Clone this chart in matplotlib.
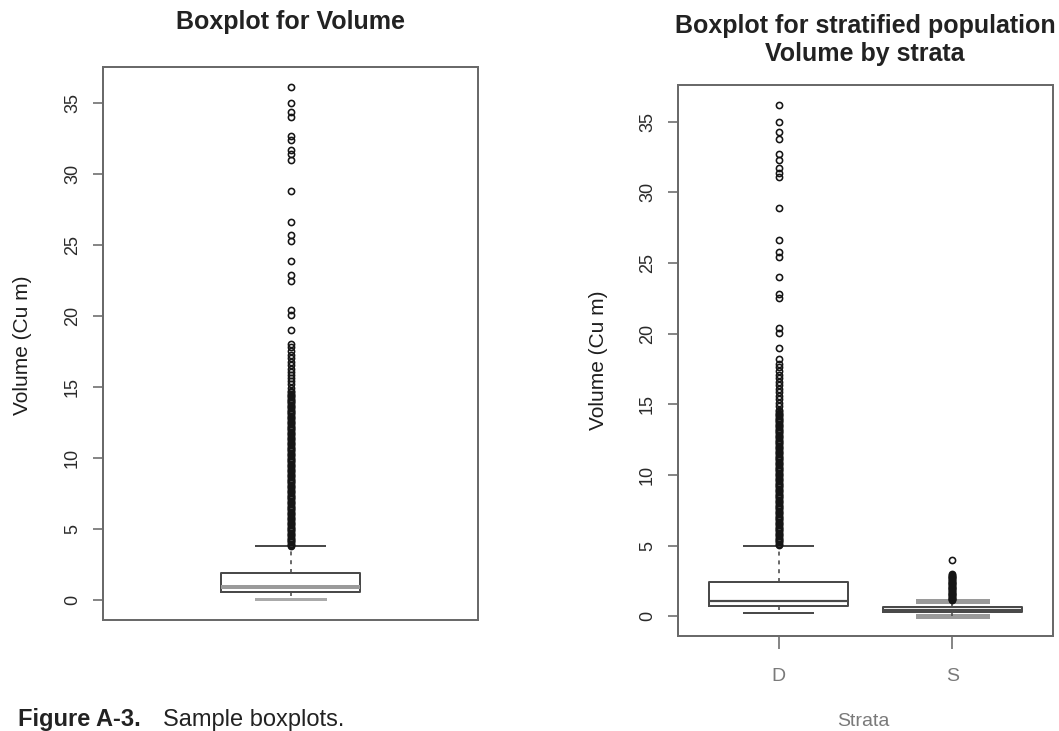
import matplotlib
matplotlib.use("Agg")
import matplotlib.pyplot as plt

# ---------------- data ----------------
# Left panel: whole population
all_label = ["Volume"]
all_stats = [0.10, 0.60, 0.95, 1.95, 3.80]   # whislo, q1, median, q3, whishi
all_fliers = [
    3.82, 3.90, 3.98, 4.07, 4.15, 4.24, 4.33, 4.41, 4.50, 4.58, 4.67, 4.76,
    4.84, 4.93, 5.02, 5.10, 5.19, 5.28, 5.36, 5.45, 5.54, 5.62, 5.71, 5.80,
    5.88, 5.97, 6.06, 6.14, 6.23, 6.32, 6.40, 6.49, 6.58, 6.66, 6.75, 6.84,
    6.92, 7.01, 7.10, 7.18, 7.27, 7.36, 7.44, 7.53, 7.62, 7.70, 7.79, 7.88,
    7.96, 8.05, 8.14, 8.22, 8.31, 8.40, 8.48, 8.57, 8.66, 8.74, 8.83, 8.92,
    9.00, 9.09, 9.18, 9.26, 9.35, 9.44, 9.52, 9.61, 9.70, 9.78, 9.87, 9.96,
    10.04, 10.13, 10.22, 10.30, 10.39, 10.48, 10.56, 10.65, 10.74, 10.82,
    10.91, 11.00, 11.08, 11.17, 11.26, 11.34, 11.43, 11.52, 11.60, 11.69,
    11.78, 11.86, 11.95, 12.04, 12.12, 12.21, 12.30, 12.38, 12.47, 12.56,
    12.64, 12.73, 12.82, 12.90, 12.99, 13.08, 13.16, 13.25, 13.34, 13.42,
    13.51, 13.60, 13.68, 13.77, 13.86, 13.94, 14.03, 14.12, 14.20, 14.29,
    14.38, 14.46, 14.55, 14.64, 14.72,
    14.95, 15.20, 15.40, 15.62, 15.85, 16.10, 16.30, 16.55, 16.80, 17.05,
    17.30, 17.55, 17.80, 18.05,
    19.0, 20.1, 20.4, 22.5, 22.9, 23.9, 25.3, 25.7, 26.6, 28.8, 31.0, 31.4,
    31.7, 32.4, 32.7, 34.0, 34.4, 35.0, 36.1,
]

# Right panel: by strata
strata = ["D", "S"]
d_stats = [0.22, 0.72, 1.08, 2.40, 5.00]
s_stats = [0.04, 0.30, 0.45, 0.68, 1.08]
d_fliers = [
    5.05, 5.13, 5.22, 5.30, 5.39, 5.48, 5.56, 5.65, 5.74, 5.82, 5.91, 6.00,
    6.08, 6.17, 6.26, 6.34, 6.43, 6.52, 6.60, 6.69, 6.78, 6.86, 6.95, 7.04,
    7.12, 7.21, 7.30, 7.38, 7.47, 7.56, 7.64, 7.73, 7.82, 7.90, 7.99, 8.08,
    8.16, 8.25, 8.34, 8.42, 8.51, 8.60, 8.68, 8.77, 8.86, 8.94, 9.03, 9.12,
    9.20, 9.29, 9.38, 9.46, 9.55, 9.64, 9.72, 9.81, 9.90, 9.98, 10.07, 10.16,
    10.24, 10.33, 10.42, 10.50, 10.59, 10.68, 10.76, 10.85, 10.94, 11.02,
    11.11, 11.20, 11.28, 11.37, 11.46, 11.54, 11.63, 11.72, 11.80, 11.89,
    11.98, 12.06, 12.15, 12.24, 12.32, 12.41, 12.50, 12.58, 12.67, 12.76,
    12.84, 12.93, 13.02, 13.10, 13.19, 13.28, 13.36, 13.45, 13.54, 13.62,
    13.71, 13.80, 13.88, 13.97, 14.06, 14.14, 14.23, 14.32, 14.40, 14.49,
    14.58,
    14.85, 15.10, 15.35, 15.60, 15.85, 16.10, 16.35, 16.60, 16.85, 17.10,
    17.35, 17.60, 17.85, 18.20,
    19.0, 20.05, 20.4, 22.5, 22.8, 24.0, 25.4, 25.75, 26.6, 28.9, 31.1, 31.4,
    31.7, 32.3, 32.7, 33.8, 34.3, 35.0, 36.15,
]
s_fliers = [
    1.12, 1.18, 1.24, 1.30, 1.36, 1.42, 1.48, 1.54, 1.60, 1.66, 1.72, 1.78,
    1.84, 1.90, 1.96, 2.02, 2.08, 2.14, 2.20, 2.26, 2.32, 2.38, 2.44, 2.50,
    2.56, 2.62, 2.68, 2.74, 2.80, 2.86, 2.92, 2.97,
    4.00,
]

yticks = [0, 5, 10, 15, 20, 25, 30, 35]
title_left = "Boxplot for Volume"
title_right = ["Boxplot for stratified population", "Volume by strata"]
ylabel = "Volume (Cu m)"
xlabel = "Strata"
caption_bold = "Figure A-3."
caption_rest = "Sample boxplots."

# ---------------- styling ----------------
W, H = 1059, 731
plt.rcParams["font.family"] = ["Liberation Sans", "DejaVu Sans"]

fig = plt.figure(figsize=(W / 100, H / 100), dpi=100)
fig.patch.set_facecolor("white")

EDGE = "#4a4a4a"
SPINE = "#6a6a6a"


def stats_dict(vals, fl, label):
    lo, q1, med, q3, hi = vals
    return dict(whislo=lo, q1=q1, med=med, q3=q3, whishi=hi, fliers=fl, label=label)


def px(x):   # pixels -> points at 100 dpi
    return x * 0.72


def style_axes(ax, ymin, ymax):
    rng = ymax - ymin
    ax.set_ylim(ymin - 0.04 * rng, ymax + 0.04 * rng)
    for s in ax.spines.values():
        s.set_color(SPINE)
        s.set_linewidth(px(2))
    ax.set_yticks(yticks)
    ax.set_yticklabels([str(t) for t in yticks], rotation=90, va="center")
    ax.tick_params(axis="y", length=px(10), width=px(1.6), color=SPINE,
                   labelsize=13, labelcolor="#2a2a2a", pad=px(12))


def draw(ax, stats, positions, width, capw):
    res = ax.bxp(stats, positions=positions, widths=width, capwidths=capw,
                 showfliers=True, patch_artist=False,
                 boxprops=dict(color=EDGE, linewidth=px(2)),
                 whiskerprops=dict(color=EDGE, linewidth=px(1.6), linestyle=(0, (2.5, 3))),
                 capprops=dict(color=EDGE, linewidth=px(2)),
                 medianprops=dict(color=EDGE, linewidth=px(2.2)),
                 flierprops=dict(marker="o", markerfacecolor="none",
                                 markeredgecolor="#151515", markersize=px(6.2),
                                 markeredgewidth=px(1.6), linestyle="none"))
    return res


# Left panel
axL = fig.add_axes([103 / W, 1 - 620 / H, 375 / W, 553 / H])
resL = draw(axL, [stats_dict(all_stats, all_fliers, all_label[0])], [1], 0.4, 0.2)
axL.set_xlim(0.46, 1.54)
axL.set_xticks([])
style_axes(axL, 0.05, max(all_fliers))
resL["medians"][0].set_color("#9a9a9a")
resL["medians"][0].set_linewidth(px(4))
resL["caps"][0].set_color("#aaaaaa")
resL["caps"][0].set_linewidth(px(3))

# Right panel
axR = fig.add_axes([678 / W, 1 - 636 / H, 375 / W, 551 / H])
resR = draw(axR, [stats_dict(d_stats, d_fliers, strata[0]),
                  stats_dict(s_stats, s_fliers, strata[1])],
            [1, 2], 0.8, 0.4)
axR.set_xlim(0.42, 2.58)
axR.set_xticks([1, 2])
axR.set_xticklabels(strata)
style_axes(axR, 0.04, max(d_fliers))
axR.tick_params(axis="x", length=px(13), width=px(1.6), color=SPINE,
                labelsize=14, labelcolor="#7a7a7a", pad=px(19))
for c in resR["caps"][2:]:
    c.set_color("#9a9a9a")
    c.set_linewidth(px(5))
    c.set_zorder(1)

# Titles
fig.text(290.5 / W, 1 - 29 / H, title_left, ha="center", va="baseline",
         fontsize=18, fontweight="bold", color="#222222")
fig.text(865 / W, 1 - 33 / H, title_right[0], ha="center", va="baseline",
         fontsize=18, fontweight="bold", color="#222222")
fig.text(865 / W, 1 - 61 / H, title_right[1], ha="center", va="baseline",
         fontsize=18, fontweight="bold", color="#222222")

# Y labels
fig.text(23 / W, 1 - 345 / H, ylabel, rotation=90, ha="center", va="center",
         fontsize=15, color="#1e1e1e")
fig.text(598 / W, 1 - 360 / H, ylabel, rotation=90, ha="center", va="center",
         fontsize=15, color="#1e1e1e")

# X label of right panel
fig.text(863 / W, 1 - 722 / H, xlabel, ha="center", va="center",
         fontsize=14, color="#7a7a7a", family=["Liberation Sans Narrow", "Liberation Sans"])

# Caption
fig.text(18 / W, 1 - 726 / H, caption_bold, ha="left", va="baseline",
         fontsize=17, fontweight="bold", color="#222222")
fig.text(163 / W, 1 - 726 / H, caption_rest, ha="left", va="baseline",
         fontsize=17, color="#222222")

fig.savefig("out.png", dpi=100, facecolor="white")
